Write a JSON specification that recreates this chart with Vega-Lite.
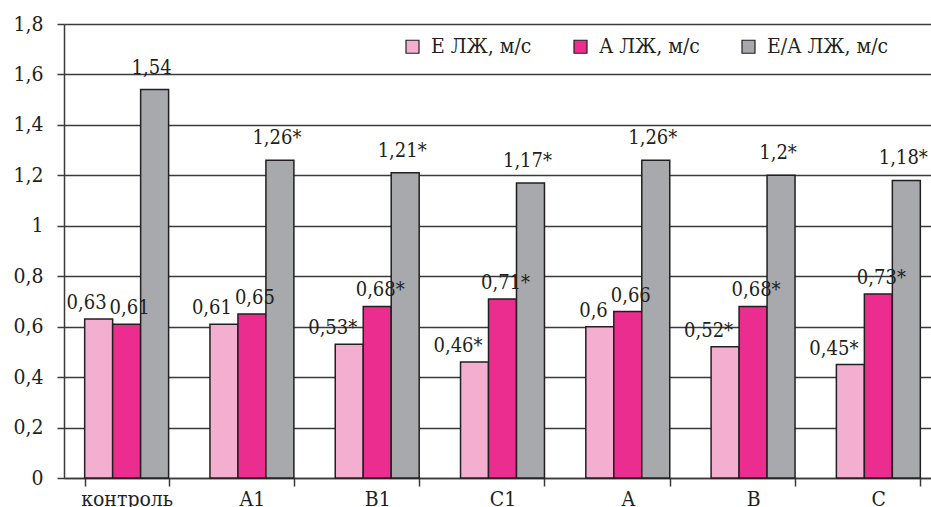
{
  "$schema": "https://vega.github.io/schema/vega-lite/v6.json",
  "width": 867,
  "height": 454,
  "autosize": {"type": "none"},
  "padding": {"left": 64, "top": 24, "right": 0, "bottom": 29},
  "background": "white",
  "config": {
    "font": "DejaVu Serif Condensed",
    "view": {"stroke": null},
    "axis": {"labelFont": "DejaVu Serif Condensed", "labelColor": "#231F20", "labelFontSize": 21, "title": null},
    "legend": {"labelFont": "DejaVu Serif Condensed"},
    "text": {"font": "DejaVu Serif Condensed"}
  },
  "data": {
    "values": [
      {"g": "контроль", "s": "Е ЛЖ, м/с", "v": 0.63, "label": "0,63"},
      {"g": "контроль", "s": "А ЛЖ, м/с", "v": 0.61, "label": "0,61"},
      {"g": "контроль", "s": "Е/А ЛЖ, м/с", "v": 1.54, "label": "1,54"},
      {"g": "A1", "s": "Е ЛЖ, м/с", "v": 0.61, "label": "0,61"},
      {"g": "A1", "s": "А ЛЖ, м/с", "v": 0.65, "label": "0,65"},
      {"g": "A1", "s": "Е/А ЛЖ, м/с", "v": 1.26, "label": "1,26*"},
      {"g": "B1", "s": "Е ЛЖ, м/с", "v": 0.53, "label": "0,53*"},
      {"g": "B1", "s": "А ЛЖ, м/с", "v": 0.68, "label": "0,68*"},
      {"g": "B1", "s": "Е/А ЛЖ, м/с", "v": 1.21, "label": "1,21*"},
      {"g": "C1", "s": "Е ЛЖ, м/с", "v": 0.46, "label": "0,46*"},
      {"g": "C1", "s": "А ЛЖ, м/с", "v": 0.71, "label": "0,71*"},
      {"g": "C1", "s": "Е/А ЛЖ, м/с", "v": 1.17, "label": "1,17*"},
      {"g": "A", "s": "Е ЛЖ, м/с", "v": 0.6, "label": "0,6"},
      {"g": "A", "s": "А ЛЖ, м/с", "v": 0.66, "label": "0,66"},
      {"g": "A", "s": "Е/А ЛЖ, м/с", "v": 1.26, "label": "1,26*"},
      {"g": "B", "s": "Е ЛЖ, м/с", "v": 0.52, "label": "0,52*"},
      {"g": "B", "s": "А ЛЖ, м/с", "v": 0.68, "label": "0,68*"},
      {"g": "B", "s": "Е/А ЛЖ, м/с", "v": 1.2, "label": "1,2*"},
      {"g": "C", "s": "Е ЛЖ, м/с", "v": 0.45, "label": "0,45*"},
      {"g": "C", "s": "А ЛЖ, м/с", "v": 0.73, "label": "0,73*"},
      {"g": "C", "s": "Е/А ЛЖ, м/с", "v": 1.18, "label": "1,18*"}
    ]
  },
  "encoding": {
    "x": {
      "field": "g", "type": "nominal",
      "sort": ["контроль", "A1", "B1", "C1", "A", "B", "C"],
      "scale": {"range": [0, 877], "paddingInner": 0.33, "paddingOuter": 0.165},
      "axis": {"tickBand": "extent", "tickSize": 8, "labelPadding": 2, "labelAngle": 0, "grid": false,
               "domainColor": "#3a3a3a", "domainWidth": 1.5, "tickColor": "#3a3a3a", "tickWidth": 1.5}
    },
    "xOffset": {
      "field": "s", "type": "nominal",
      "scale": {"domain": ["Е ЛЖ, м/с", "А ЛЖ, м/с", "Е/А ЛЖ, м/с"], "paddingInner": 0, "paddingOuter": 0}
    },
    "y": {
      "field": "v", "type": "quantitative",
      "scale": {"domain": [0, 1.8], "nice": false},
      "axis": {"values": [0, 0.2, 0.4, 0.6, 0.8, 1, 1.2, 1.4, 1.6, 1.8],
               "labelExpr": "replace(format(datum.value, '~g'), '.', ',')",
               "grid": true, "gridColor": "#3a3a3a", "gridWidth": 1.5,
               "domainColor": "#3a3a3a", "domainWidth": 1.5, "tickColor": "#3a3a3a", "tickWidth": 1.5,
               "tickSize": 7, "labelPadding": 14, "labelFontSize": 21, "labelFont": "DejaVu Serif Condensed"}
    }
  },
  "layer": [
    {
      "mark": {"type": "bar", "stroke": "#231F20", "strokeWidth": 1.5},
      "encoding": {
        "color": {
          "field": "s", "type": "nominal",
          "scale": {"domain": ["Е ЛЖ, м/с", "А ЛЖ, м/с", "Е/А ЛЖ, м/с"], "range": ["#F4AED0", "#EC2D90", "#A7A9AC"]},
          "legend": {"title": null, "orient": "none", "legendX": 338, "legendY": 12, "direction": "horizontal",
                     "columns": 3, "symbolType": "square", "symbolSize": 169, "symbolStrokeColor": "#231F20",
                     "symbolStrokeWidth": 1.2, "symbolOpacity": 1, "labelFontSize": 21, "labelColor": "#231F20",
                     "labelOffset": 8, "columnPadding": 38, "labelLimit": 300, "labelFont": "DejaVu Serif Condensed"}
        }
      }
    },
    {
      "transform": [{"filter": "datum.s === 'Е ЛЖ, м/с'"}],
      "mark": {"type": "text", "align": "right", "baseline": "bottom", "dx": 8, "dy": -6, "fontSize": 20, "color": "#231F20", "font": "DejaVu Serif Condensed"},
      "encoding": {"text": {"field": "label"}}
    },
    {
      "transform": [{"filter": "datum.s === 'А ЛЖ, м/с'"}],
      "mark": {"type": "text", "align": "center", "baseline": "bottom", "dx": 3, "dy": -6, "fontSize": 20, "color": "#231F20", "font": "DejaVu Serif Condensed"},
      "encoding": {"text": {"field": "label"}}
    },
    {
      "transform": [{"filter": "datum.s === 'Е/А ЛЖ, м/с'"}],
      "mark": {"type": "text", "align": "center", "baseline": "bottom", "dx": -3, "dy": -12, "fontSize": 20, "color": "#231F20", "font": "DejaVu Serif Condensed"},
      "encoding": {"text": {"field": "label"}}
    }
  ]
}
